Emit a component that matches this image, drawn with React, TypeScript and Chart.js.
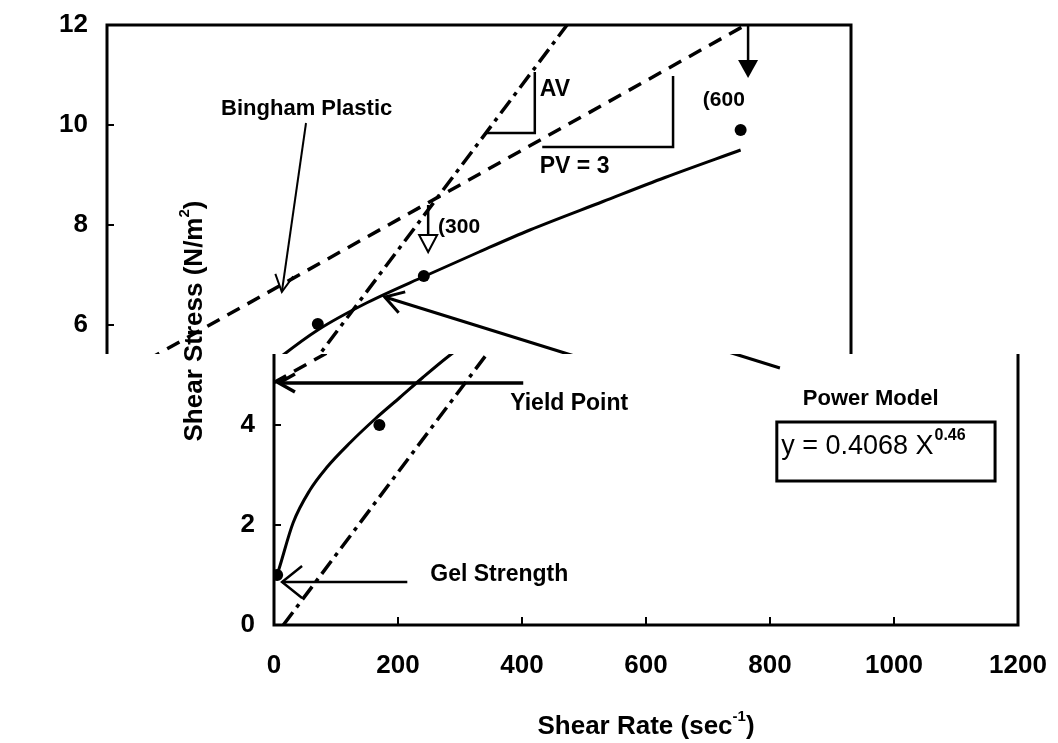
import React, { useEffect, useRef } from "react";
import { Chart, registerables } from "chart.js";

Chart.register(...registerables);

const W = 1058;
const H = 743;
const FONT = "'Liberation Sans', Arial, Helvetica, sans-serif";

// ---- axes ----
const xTickValues = [0, 200, 400, 600, 800, 1000, 1200];
const yTickValues = [0, 2, 4, 6, 8, 10, 12];
const xTitleMain = "Shear Rate (sec";
const xTitleSup = "-1";
const yTitleMain = "Shear Stress (N/m";
const yTitleSup = "2";

// ---- measured viscometer readings ----
const readingRate = [5.1, 170, 340, 511, 1022];
const readingStress = [1.0, 4.0, 6.02, 6.98, 9.9];

// ---- power model curve ----
const powerRate = [5.1, 10, 31, 58, 85, 123, 163, 203, 240, 282, 340, 420, 513, 600, 682, 800, 900, 1022];
const powerStress = [1.0, 1.2, 2.05, 2.7, 3.15, 3.65, 4.12, 4.55, 4.95, 5.38, 5.9, 6.45, 6.98, 7.46, 7.9, 8.47, 8.95, 9.5];

// ---- Bingham plastic line ----
const binghamRate = [0, 1030];
const binghamStress = [4.85, 12];

// ---- apparent viscosity line ----
const avRate = [15, 742];
const avStress = [0, 12];

// ---- annotations (data coordinates) ----
type Label = { text: string; x: number; y: number; size: number; bold: boolean };
const labels: Label[] = [
  { text: "Bingham Plastic", x: 184, y: 10.32, size: 22, bold: true },
  { text: "AV", x: 698, y: 10.7, size: 23, bold: true },
  { text: "PV = 3", x: 698, y: 9.16, size: 23, bold: true },
  { text: "(300", x: 534, y: 7.96, size: 21, bold: true },
  { text: "(600", x: 961, y: 10.5, size: 21, bold: true },
  { text: "Yield Point", x: 381, y: 4.42, size: 23, bold: true },
  { text: "Gel Strength", x: 252, y: 1.0, size: 23, bold: true },
  { text: "Power Model", x: 853, y: 4.52, size: 22, bold: true },
];

type Arrow = { from: [number, number]; to: [number, number]; head: "open" | "filled" | "hollow"; len: number; hw: number; lw: number };
const arrows: Arrow[] = [
  { from: [321, 10.04], to: [282, 6.66], head: "open", len: 17, hw: 9, lw: 2 },
  { from: [518, 8.4], to: [518, 7.46], head: "hollow", len: 17, hw: 9, lw: 2.5 },
  { from: [1034, 12], to: [1034, 10.94], head: "filled", len: 18, hw: 10, lw: 2.5 },
  { from: [816, 5.14], to: [448, 6.56], head: "open", len: 18, hw: 11, lw: 3 },
  { from: [402, 4.84], to: [8, 4.84], head: "open", len: 16, hw: 9, lw: 3.5 },
  { from: [215, 0.86], to: [13, 0.86], head: "open", len: 20, hw: 16, lw: 2.5 },
];

const slopeTriangles: [number, number][][] = [
  [[611, 9.84], [690, 9.84], [690, 11.06]],
  [[702, 9.56], [913, 9.56], [913, 10.98]],
];

const equationBox = { x1: 811, y1: 4.06, x2: 1163, y2: 2.88 };
const equation = { text: "y = 0.4068 X", sup: "0.46", x: 818, y: 3.56 };

// scanned figure: upper strip is offset to the left
const STRIP_H = 354;
const STRIP_DX = 167;

function font(size: number, bold: boolean) {
  return `${bold ? "bold " : ""}${size}px ${FONT}`;
}

const figurePlugin = {
  id: "figureDecor",
  afterDatasetsDraw(chart: any) {
    const ctx: CanvasRenderingContext2D = chart.ctx;
    const xs = chart.scales.x;
    const ys = chart.scales.y;
    const { left, right, top, bottom } = chart.chartArea;
    const P = (x: number, y: number): [number, number] => [xs.getPixelForValue(x), ys.getPixelForValue(y)];

    ctx.save();
    ctx.strokeStyle = "#000";
    ctx.fillStyle = "#000";
    ctx.lineCap = "butt";

    // frame
    ctx.lineWidth = 3;
    ctx.strokeRect(left, top, right - left, bottom - top);

    // inside tick marks
    ctx.lineWidth = 2;
    yTickValues.forEach((v) => {
      const py = ys.getPixelForValue(v);
      ctx.beginPath();
      ctx.moveTo(left, py);
      ctx.lineTo(left + 7, py);
      ctx.stroke();
    });
    xTickValues.forEach((v) => {
      const px = xs.getPixelForValue(v);
      ctx.beginPath();
      ctx.moveTo(px, bottom);
      ctx.lineTo(px, bottom - 8);
      ctx.stroke();
    });

    // slope triangles
    ctx.lineWidth = 2.5;
    slopeTriangles.forEach((pts) => {
      ctx.beginPath();
      pts.forEach((p, i) => {
        const [px, py] = P(p[0], p[1]);
        if (i === 0) ctx.moveTo(px, py);
        else ctx.lineTo(px, py);
      });
      ctx.stroke();
    });

    // arrows
    arrows.forEach((a) => {
      const [x1, y1] = P(a.from[0], a.from[1]);
      const [x2, y2] = P(a.to[0], a.to[1]);
      const d = Math.hypot(x2 - x1, y2 - y1);
      const ux = (x2 - x1) / d;
      const uy = (y2 - y1) / d;
      const bx = x2 - ux * a.len;
      const by = y2 - uy * a.len;
      const p1: [number, number] = [bx - uy * a.hw, by + ux * a.hw];
      const p2: [number, number] = [bx + uy * a.hw, by - ux * a.hw];
      ctx.lineWidth = a.lw;
      ctx.beginPath();
      ctx.moveTo(x1, y1);
      if (a.head === "open") ctx.lineTo(x2, y2);
      else ctx.lineTo(bx, by);
      ctx.stroke();
      ctx.beginPath();
      ctx.moveTo(p1[0], p1[1]);
      ctx.lineTo(x2, y2);
      ctx.lineTo(p2[0], p2[1]);
      if (a.head === "open") {
        ctx.stroke();
      } else {
        ctx.closePath();
        if (a.head === "filled") {
          ctx.fill();
        } else {
          ctx.fillStyle = "#fff";
          ctx.fill();
          ctx.fillStyle = "#000";
          ctx.lineWidth = 2;
          ctx.stroke();
        }
      }
    });

    // labels
    ctx.textAlign = "left";
    ctx.textBaseline = "middle";
    labels.forEach((l) => {
      const [px, py] = P(l.x, l.y);
      ctx.font = font(l.size, l.bold);
      ctx.fillText(l.text, px, py);
    });

    // equation box
    {
      const [bx1, by1] = P(equationBox.x1, equationBox.y1);
      const [bx2, by2] = P(equationBox.x2, equationBox.y2);
      ctx.fillStyle = "#fff";
      ctx.fillRect(bx1, by1, bx2 - bx1, by2 - by1);
      ctx.fillStyle = "#000";
      ctx.lineWidth = 3;
      ctx.strokeRect(bx1, by1, bx2 - bx1, by2 - by1);
      const [ex, ey] = P(equation.x, equation.y);
      ctx.font = font(27, false);
      ctx.fillText(equation.text, ex, ey);
      const w = ctx.measureText(equation.text).width;
      ctx.font = font(16, true);
      ctx.fillText(equation.sup, ex + w + 1, ey - 11);
    }

    // x axis title
    {
      ctx.font = font(26, true);
      const w1 = ctx.measureText(xTitleMain).width;
      ctx.font = font(15, true);
      const w2 = ctx.measureText(xTitleSup).width;
      ctx.font = font(26, true);
      const w3 = ctx.measureText(")").width;
      const total = w1 + w2 + w3;
      const cx = (left + right) / 2;
      const cy = 727;
      const x0 = cx - total / 2;
      ctx.fillText(xTitleMain, x0, cy);
      ctx.font = font(15, true);
      ctx.fillText(xTitleSup, x0 + w1, cy - 10);
      ctx.font = font(26, true);
      ctx.fillText(")", x0 + w1 + w2, cy);
    }
    ctx.restore();
  },
  afterDraw(chart: any) {
    const ctx: CanvasRenderingContext2D = chart.ctx;
    ctx.save();
    ctx.setTransform(1, 0, 0, 1, 0, 0);
    const img = ctx.getImageData(STRIP_DX, 0, W - STRIP_DX, STRIP_H);
    ctx.clearRect(0, 0, W, STRIP_H);
    ctx.putImageData(img, 0, 0);

    // y axis title
    ctx.fillStyle = "#000";
    ctx.textAlign = "left";
    ctx.textBaseline = "middle";
    ctx.translate(195, 321);
    ctx.rotate(-Math.PI / 2);
    ctx.font = font(26, true);
    const w1 = ctx.measureText(yTitleMain).width;
    ctx.font = font(15, true);
    const w2 = ctx.measureText(yTitleSup).width;
    ctx.font = font(26, true);
    const w3 = ctx.measureText(")").width;
    const total = w1 + w2 + w3;
    const x0 = -total / 2;
    ctx.fillText(yTitleMain, x0, 0);
    ctx.font = font(15, true);
    ctx.fillText(yTitleSup, x0 + w1, -10);
    ctx.font = font(26, true);
    ctx.fillText(")", x0 + w1 + w2, 0);
    ctx.restore();
  },
};

export default function App() {
  const ref = useRef<HTMLCanvasElement>(null);

  useEffect(() => {
    const canvas = ref.current;
    if (!canvas) return;
    const chart = new Chart(canvas, {
      type: "scatter",
      data: {
        datasets: [
          {
            type: "line",
            label: "Power Model",
            data: powerRate.map((x, i) => ({ x, y: powerStress[i] })),
            borderColor: "#000",
            borderWidth: 3,
            pointRadius: 0,
            cubicInterpolationMode: "monotone",
            fill: false,
          } as any,
          {
            type: "line",
            label: "Bingham Plastic",
            data: binghamRate.map((x, i) => ({ x, y: binghamStress[i] })),
            borderColor: "#000",
            borderWidth: 3.5,
            borderDash: [14, 9],
            pointRadius: 0,
            fill: false,
          } as any,
          {
            type: "line",
            label: "Apparent Viscosity",
            data: avRate.map((x, i) => ({ x, y: avStress[i] })),
            borderColor: "#000",
            borderWidth: 3.5,
            borderDash: [16, 6, 4, 6],
            pointRadius: 0,
            fill: false,
          } as any,
          {
            type: "scatter",
            label: "Readings",
            data: readingRate.map((x, i) => ({ x, y: readingStress[i] })),
            pointRadius: 6,
            pointBackgroundColor: "#000",
            pointBorderWidth: 0,
            borderColor: "#000",
          } as any,
        ],
      },
      options: {
        animation: false,
        responsive: false,
        devicePixelRatio: 1,
        layout: { padding: { left: 0, right: W - 1018, top: 25, bottom: 0 } },
        plugins: {
          legend: { display: false },
          tooltip: { enabled: false },
          title: { display: false },
        },
        scales: {
          x: {
            type: "linear",
            min: 0,
            max: 1200,
            afterFit: (s: any) => {
              s.height = 118;
              s.paddingLeft = 0;
              s.paddingRight = 0;
            },
            afterBuildTicks: (s: any) => {
              s.ticks = xTickValues.map((v) => ({ value: v }));
            },
            ticks: {
              color: "#000",
              font: { family: FONT, size: 26, weight: "bold" },
              padding: 25,
              maxRotation: 0,
              autoSkip: false,
              callback: (v: any) => String(v),
            },
            grid: { display: false, drawTicks: false },
            border: { display: false },
          },
          y: {
            type: "linear",
            min: 0,
            max: 12,
            afterFit: (s: any) => {
              s.width = 274;
              s.paddingTop = 0;
              s.paddingBottom = 0;
            },
            afterBuildTicks: (s: any) => {
              s.ticks = yTickValues.map((v) => ({ value: v }));
            },
            ticks: {
              color: "#000",
              font: { family: FONT, size: 26, weight: "bold" },
              padding: 19,
              autoSkip: false,
              callback: (v: any) => String(v),
            },
            grid: { display: false, drawTicks: false },
            border: { display: false },
          },
        },
      } as any,
      plugins: [figurePlugin as any],
    });
    return () => chart.destroy();
  }, []);

  return (
    <canvas
      ref={ref}
      width={W}
      height={H}
      style={{ position: "absolute", left: 0, top: 0, width: W, height: H, display: "block" }}
    />
  );
}
